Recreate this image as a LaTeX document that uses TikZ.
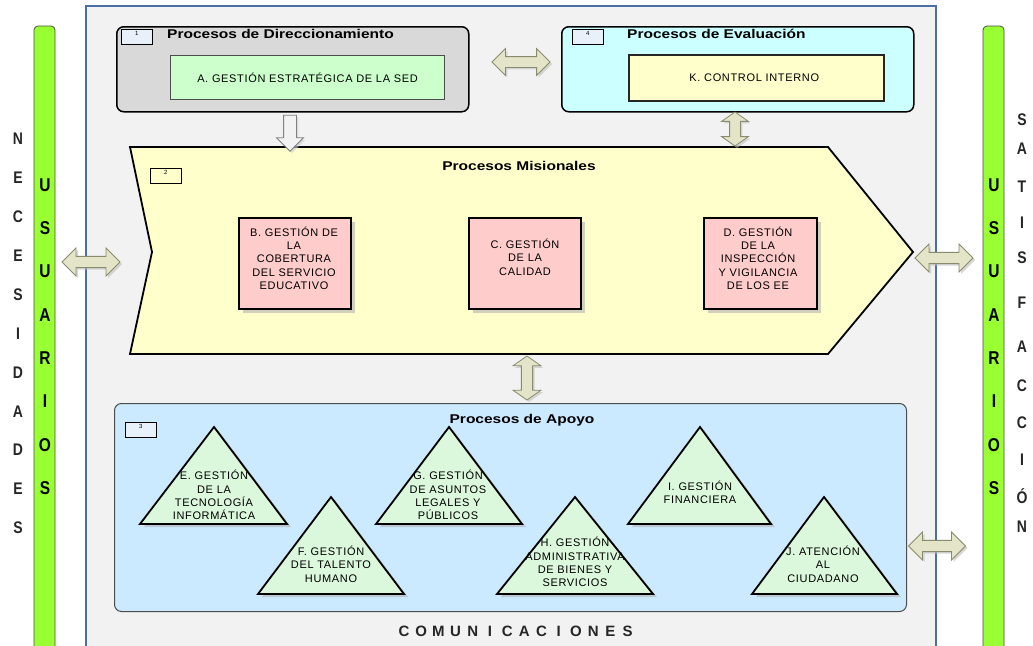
\documentclass[tikz,border=0pt]{standalone}
\usepackage{fontspec}
\usepackage{graphicx}
\setmainfont{Liberation Sans}
\newfontfamily\boxfont[LetterSpace=6]{Liberation Sans}
\usetikzlibrary{shapes.arrows,shadows}

\definecolor{panelgray}{HTML}{F2F2F2}
\definecolor{panelblue}{HTML}{4A6FA5}
\definecolor{usergreen}{HTML}{99FF33}
\definecolor{dirgray}{HTML}{D9D9D9}
\definecolor{evalcyan}{HTML}{CCFFFF}
\definecolor{paleyellow}{HTML}{FFFFCC}
\definecolor{mintgreen}{HTML}{CCFFCC}
\definecolor{pinkbox}{HTML}{FFCCCC}
\definecolor{apoyoblue}{HTML}{CCEAFF}
\definecolor{trigreen}{HTML}{DCF8DC}
\definecolor{arrowfill}{HTML}{E4E4C8}
\definecolor{arrowline}{HTML}{8A8A6E}
\definecolor{numfill}{HTML}{E8F0FA}

% squat bold heading and tall single letters
\newcommand{\grouptitle}[1]{\scalebox{1}[0.82]{#1}}
\newcommand{\tallletter}[1]{\scalebox{1}[1.2]{#1}}

\tikzset{
  userbar/.style={draw=black!70, line width=0.8pt, fill=usergreen, rounded corners=4pt},
  group/.style={draw=black, line width=1.5pt, rounded corners=7pt, inner sep=0pt, anchor=north west},
  inbox/.style={draw=black!85, line width=1.5pt, inner sep=0pt, anchor=north west},
  numbox/.style={draw=black, line width=0.8pt, fill=numfill, minimum width=31, minimum height=15,
    inner sep=0pt, anchor=north west},
  numtext/.style={font=\fontsize{6}{6}\selectfont, inner sep=0pt, anchor=north},
  title/.style={font=\fontsize{15.5}{16}\selectfont\bfseries, inner sep=0pt},
  proc/.style={draw=black, line width=1.8pt, fill=pinkbox, inner sep=0pt, anchor=north west,
    drop shadow={shadow xshift=4pt, shadow yshift=-4pt, fill=black!30, opacity=0.6}},
  tri/.style={draw=black, line width=1.8pt, fill=trigreen, line join=miter,
    drop shadow={shadow xshift=4pt, shadow yshift=-3pt, fill=black!30, opacity=0.6}},
  ptext/.style={font=\boxfont\fontsize{11}{13.3}\selectfont, align=center, inner sep=0pt, text=black},
  dbl/.style={double arrow, draw=arrowline, fill=arrowfill, line width=0.8pt,
    inner xsep=0pt, inner ysep=5pt, double arrow head extend=8pt, double arrow tip angle=90,
    drop shadow={shadow xshift=2pt, shadow yshift=-2pt, fill=black!25, opacity=0.6}},
  sideletter/.style={font=\fontsize{14}{14}\selectfont\bfseries, inner sep=0pt, text=black!85},
  barletter/.style={font=\fontsize{15.5}{15}\selectfont\bfseries, inner sep=0pt},
}

\begin{document}
\begin{tikzpicture}[x=1pt, y=-1pt]
\useasboundingbox (0,0) rectangle (1033,645);
\fill[white] (0,0) rectangle (1033,645);

% central panel
\draw[draw=panelblue, line width=2pt, fill=panelgray] (86,6) rectangle (936,670);

% user bars on both sides
\draw[userbar] (34,26) rectangle (55,680);
\draw[userbar] (983,26) rectangle (1004,680);

\foreach \l [count=\i] in {U,S,U,A,R,I,O,S} {
  \pgfmathsetmacro{\yy}{185+43.3*(\i-1)}
  \node[barletter] (ul\i) at (45,\yy) {\tallletter{\l}};
  \node[barletter] (ur\i) at (994,\yy) {\tallletter{\l}};
}
\foreach \l [count=\i] in {N,E,C,E,S,I,D,A,D,E,S} {
  \pgfmathsetmacro{\yy}{139+38.9*(\i-1)}
  \node[sideletter] (nl\i) at (18,\yy) {\tallletter{\l}};
}
\foreach \l/\yy [count=\i] in {S/120,A/149,T/187,I/223,S/258,F/303,A/347,C/386,C/423,I/460,Ó/496,N/527} {
  \node[sideletter] (sr\i) at (1022,\yy) {\tallletter{\l}};
}

% Procesos de Direccionamiento
\node[group, fill=dirgray, minimum width=352, minimum height=85] (dir) at (116,26) {};
\node[numbox] (n1) at (121,29) {};
\node[numtext] at (n1.north) [yshift=-2pt] {1};
\node[title, anchor=west] (tdir) at (167,34) {\grouptitle{Procesos de Direccionamiento}};
\node[inbox, fill=mintgreen, minimum width=274, minimum height=44, draw=black!70, line width=1pt] (A) at (170,55) {};
\node[ptext] at (A.center) {A. GESTIÓN ESTRATÉGICA DE LA SED};

% Procesos de Evaluación
\node[group, fill=evalcyan, minimum width=352, minimum height=85] (eva) at (561,26) {};
\node[numbox] (n4) at (572,29) {};
\node[numtext] at (n4.north) [yshift=-2pt] {4};
\node[title, anchor=west] (teva) at (627,34) {\grouptitle{Procesos de Evaluación}};
\node[inbox, fill=paleyellow, minimum width=255, minimum height=46] (K) at (628,54) {};
\node[ptext] at ([xshift=-2pt]K.center) {K. CONTROL INTERNO};

% Procesos Misionales chevron
\draw[draw=black, line width=1.8pt, fill=paleyellow, line join=miter]
  (130,147) -- (828,147) -- (913,252) -- (828,354) -- (130,354) -- (152,252) -- cycle;
\coordinate (mis) at (520,250);
\node[numbox, fill=paleyellow] (n2) at (150,168) {};
\node[numtext] at (n2.north) [yshift=-2pt] {2};
\node[title] (tmis) at (519,166) {\grouptitle{Procesos Misionales}};

\node[proc, minimum width=112, minimum height=91] (B) at (238,217) {};
\node[ptext] at (294,258) {B. GESTIÓN DE\\LA\\COBERTURA\\DEL SERVICIO\\EDUCATIVO};
\node[proc, minimum width=112, minimum height=91] (C) at (468,217) {};
\node[ptext] at (525,257) {C. GESTIÓN\\DE LA\\CALIDAD};
\node[proc, minimum width=113, minimum height=91] (D) at (703,217) {};
\node[ptext] at (758,258) {D. GESTIÓN\\DE LA\\INSPECCIÓN\\Y VIGILANCIA\\DE LOS EE};

% Procesos de Apoyo
\node[group, fill=apoyoblue, draw=black!70, line width=1pt, minimum width=792, minimum height=208] (apo) at (114,403) {};
\node[numbox] (n3) at (125,422) {};
\node[numtext] at (n3.north) [yshift=-2pt] {3};
\node[title] (tapo) at (522,420) {\grouptitle{Procesos de Apoyo}};

\draw[tri] (214,427) -- (287,524) -- (140,524) -- cycle;
\node[ptext] (E) at (214,495) {E. GESTIÓN\\DE LA\\TECNOLOGÍA\\INFORMÁTICA};
\draw[tri] (331,497) -- (404,594) -- (258,594) -- cycle;
\node[ptext] (F) at (331,564) {F. GESTIÓN\\DEL TALENTO\\HUMANO};
\draw[tri] (449,427) -- (522,524) -- (376,524) -- cycle;
\node[ptext] (G) at (448,495) {G. GESTIÓN\\DE ASUNTOS\\LEGALES Y\\PÚBLICOS};
\draw[tri] (575,497) -- (653,594) -- (497,594) -- cycle;
\node[ptext] (H) at (575,562) {H. GESTIÓN\\ADMINISTRATIVA\\DE BIENES Y\\SERVICIOS};
\draw[tri] (700,427) -- (771,524) -- (628,524) -- cycle;
\node[ptext] (I) at (700,492) {I. GESTIÓN\\FINANCIERA};
\draw[tri] (824,497) -- (897,594) -- (752,594) -- cycle;
\node[ptext] (J) at (823,564) {J. ATENCIÓN\\AL\\CIUDADANO};

% block arrows between the groups
\node[dbl, minimum height=58, minimum width=26] (aDirEva) at (521,62) {};
\node[dbl, minimum height=34, minimum width=26, rotate=90, double arrow tip angle=110] (aEvaMis) at (735,129) {};
\node[dbl, minimum height=44, minimum width=28, rotate=90, double arrow tip angle=110] (aMisApo) at (527,378) {};
\node[dbl, minimum height=58, minimum width=28] (aLeft) at (91,262) {};
\node[dbl, minimum height=58, minimum width=28] (aRight) at (944,258) {};
\node[dbl, minimum height=57, minimum width=28] (aApo) at (937,546) {};
\node[single arrow, draw=black!50, fill=panelgray, line width=0.8pt, inner xsep=0pt, inner ysep=6pt,
  single arrow head extend=7pt, single arrow tip angle=90, minimum height=36, minimum width=26,
  rotate=-90, drop shadow={shadow xshift=2pt, shadow yshift=-2pt, fill=black!20, opacity=0.6}]
  (aDirMis) at (290,130) {};

% COMUNICACIONES
\foreach \l [count=\i] in {C,O,M,U,N,I,C,A,C,I,O,N,E,S} {
  \pgfmathsetmacro{\xx}{404+17.2*(\i-1)}
  \node[font=\fontsize{15}{15}\selectfont\bfseries, text=black!85, inner sep=0pt] (com\i) at (\xx,631) {\l};
}
\end{tikzpicture}
\end{document}
